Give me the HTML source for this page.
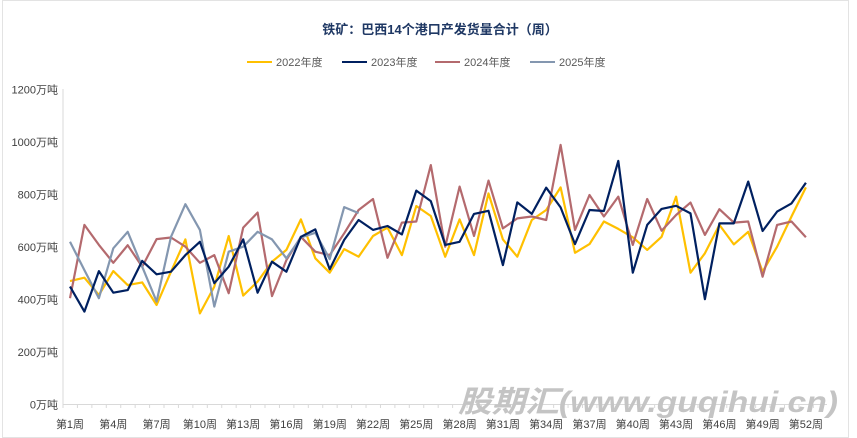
<!DOCTYPE html>
<html><head><meta charset="utf-8"><style>
html,body{margin:0;padding:0;background:#fff;}
#c{position:relative;width:857px;height:438px;overflow:hidden;font-family:"Liberation Sans","Noto Sans CJK SC",sans-serif;}
</style></head><body><div id="c">
<svg id="s" width="857" height="438" xmlns="http://www.w3.org/2000/svg" style="position:absolute;left:0;top:0">
<rect x="2.5" y="0.5" width="846" height="437" fill="none" stroke="#e3e3e3"/>
<text x="440" y="34" text-anchor="middle" font-size="13" font-weight="bold" fill="#1f3864" font-family="Liberation Sans,Noto Sans CJK SC,sans-serif">铁矿：巴西14个港口产发货量合计（周）</text>
<g font-size="11" fill="#595959" font-family="Liberation Sans,Noto Sans CJK SC,sans-serif">
<line x1="247" y1="62" x2="272" y2="62" stroke="#ffc000" stroke-width="2"/><text x="276" y="66">2022年度</text>
<line x1="342" y1="62" x2="367" y2="62" stroke="#002060" stroke-width="2"/><text x="371" y="66">2023年度</text>
<line x1="435" y1="62" x2="460" y2="62" stroke="#b46a6e" stroke-width="2"/><text x="464" y="66">2024年度</text>
<line x1="530" y1="62" x2="555" y2="62" stroke="#8497b0" stroke-width="2"/><text x="559" y="66">2025年度</text>
</g>
<g id="ax0"></g>
<text x="458" y="412" textLength="380" lengthAdjust="spacingAndGlyphs" font-size="30" font-weight="bold" font-style="italic" fill="#c4c4c4" font-family="Liberation Sans,Noto Sans CJK SC,sans-serif">股期汇(www.guqihui.cn)</text>
<g id="ax" font-size="11" fill="#404040" font-family="Liberation Sans,Noto Sans CJK SC,sans-serif"></g>
<g id="ln" fill="none" stroke-width="2.2" stroke-linejoin="round"></g>
</svg>
<script>
var NS="http://www.w3.org/2000/svg";
function X(i){return 70+14.43*i;}function Y(v){return 404.5-v*0.2625;}
var ax=document.getElementById('ax'),ax0=document.getElementById('ax0');
function el(t,a,p,txt){var e=document.createElementNS(NS,t);for(var k in a)e.setAttribute(k,a[k]);if(txt)e.textContent=txt;p.appendChild(e);return e;}
el('line',{x1:63,y1:89,x2:63,y2:404.5,stroke:'#d9d9d9'},ax0);
el('line',{x1:63,y1:404.5,x2:827,y2:404.5,stroke:'#d9d9d9'},ax0);
for(var k=0;k<=53;k++){var x=63+14.43*k;if(x>827)break;el('line',{x1:x,y1:404.5,x2:x,y2:408,stroke:'#d9d9d9'},ax0);}
for(var v=0;v<=1200;v+=200)el('text',{x:58,y:Y(v)+4,'text-anchor':'end'},ax,v+'万吨');
for(var w=1;w<=52;w+=3)el('text',{x:X(w-1),y:428,'text-anchor':'middle'},ax,'第'+w+'周');
var D={
'#ffc000':[470,483,417,508,455,465,379,506,629,347,449,642,415,468,544,589,705,557,502,592,563,642,674,569,756,718,563,705,569,804,629,563,703,741,827,578,611,697,669,637,589,639,792,502,576,684,610,658,506,601,716,827],
'#b46a6e':[405,684,608,540,607,525,630,636,601,540,569,424,674,731,413,550,639,582,569,652,741,783,559,693,697,912,601,830,642,853,671,709,716,703,989,665,798,716,792,608,783,662,722,769,646,744,693,697,487,684,697,637],
'#8497b0':[620,512,405,595,658,525,392,639,763,665,373,582,601,658,629,557,636,654,554,752,729],
'#002060':[449,354,508,426,436,547,496,506,569,620,462,525,629,426,544,506,639,667,515,627,703,665,680,648,815,775,608,620,726,738,531,770,726,826,751,611,741,737,928,502,684,745,757,728,401,690,690,849,661,735,766,845]};
var ln=document.getElementById('ln');
for(var c in D){var p=D[c].map(function(v,i){return X(i).toFixed(1)+','+Y(v).toFixed(1)}).join(' ');el('polyline',{points:p,stroke:c},ln);}
</script>
</div></body></html>
